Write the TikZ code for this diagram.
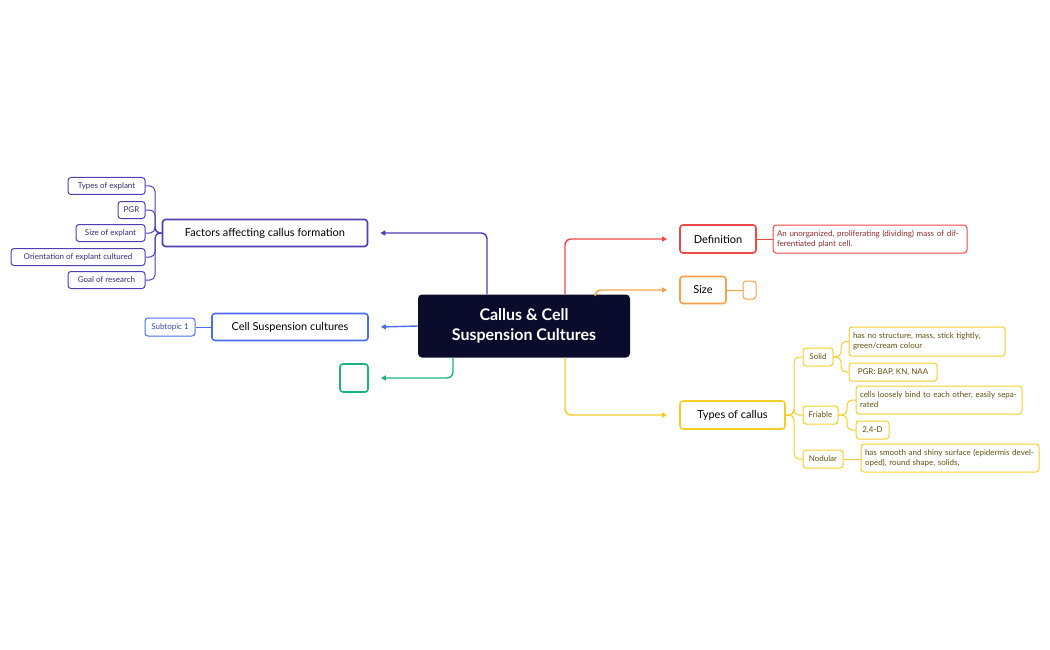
\documentclass[tikz,border=0pt]{standalone}
\usepackage{fontspec}
\setmainfont{Lato}
\usetikzlibrary{arrows.meta}
\definecolor{cPur}{HTML}{4B3FB5}
\definecolor{cBlu}{HTML}{4A6CF0}
\definecolor{cGrn}{HTML}{1BB37A}
\definecolor{cRed}{HTML}{F04848}
\definecolor{cOra}{HTML}{F7A04A}
\definecolor{cYel}{HTML}{F2CE2A}
\definecolor{cNavy}{HTML}{0B0B2B}
\tikzset{
 main/.style={draw=#1,line width=1.6pt,rounded corners=3pt,fill=white,font=\fontsize{11}{13}\selectfont,text=black,inner sep=0pt,anchor=center},
 sub/.style={draw=#1,line width=1pt,rounded corners=3pt,fill=white,font=\fontsize{8}{10}\selectfont,inner sep=0pt,anchor=center},
 conn/.style={draw=#1,line width=1.4pt,rounded corners=6pt,-{Triangle[length=5pt,width=5pt]}},
 lnk/.style={draw=#1,line width=1pt,rounded corners=5pt},
}
\begin{document}
\begin{tikzpicture}[x=1pt,y=-1pt]
\useasboundingbox (0,0) rectangle (1050,650);
% central
\node[fill=cNavy,rounded corners=4pt,minimum width=212pt,minimum height=63pt,text=white,font=\bfseries\fontsize{16}{20}\selectfont,align=center] (c) at (524,326) {Callus \& Cell\\Suspension Cultures};
% left
\node[main=cPur,minimum width=205pt,minimum height=27pt] (fac) at (265,233) {Factors affecting callus formation};
\node[main=cBlu,minimum width=156pt,minimum height=27pt] (csc) at (290,327) {Cell Suspension cultures};
\node[main=cGrn,minimum width=28pt,minimum height=28pt] (g) at (354,378) {};
\tikzset{ps/.style={sub=cPur,text=cPur!70!black,minimum height=17pt}}
\node[ps,minimum width=77pt] (f1) at (106.5,186) {Types of explant};
\node[ps,minimum width=27pt] (f2) at (131.5,210) {PGR};
\node[ps,minimum width=69pt] (f3) at (110.5,233) {Size of explant};
\node[ps,minimum width=134pt] (f4) at (78,257) {Orientation of explant cultured};
\node[ps,minimum width=77pt] (f5) at (106.5,280) {Goal of research};
\node[sub=cBlu,text=cBlu!70!black,minimum width=50pt,minimum height=18pt] (s1) at (170,327) {Subtopic 1};
% right
\node[main=cRed,minimum width=76pt,minimum height=28pt] (def) at (718,239) {Definition};
\node[sub=cRed,text=cRed!60!black,minimum width=194pt,minimum height=28pt,align=left,text width=186pt] (dt) at (870,239) {An unorganized, proliferating (dividing) mass of differentiated plant cell.};
\node[main=cOra,minimum width=46pt,minimum height=27pt] (sz) at (703,290) {Size};
\node[sub=cOra,minimum width=13pt,minimum height=18pt] (szb) at (749.5,290) {};
\node[main=cYel,minimum width=105pt,minimum height=28pt] (ty) at (732.5,415) {Types of callus};
\tikzset{ys/.style={sub=cYel,text=cYel!40!black,align=left}}
\node[ys,minimum width=30pt,minimum height=18pt] (so) at (818,357) {Solid};
\node[ys,minimum width=156pt,minimum height=29pt,text width=148pt] (so1) at (927,341.5) {has no structure, mass, stick tightly, green/cream colour};
\node[ys,minimum width=88pt,minimum height=18pt] (so2) at (893,372) {PGR: BAP, KN, NAA};
\node[ys,minimum width=35pt,minimum height=18pt] (fr) at (820.5,415) {Friable};
\node[ys,minimum width=166pt,minimum height=28pt,text width=158pt] (fr1) at (939,400) {cells loosely bind to each other, easily separated};
\node[ys,minimum width=33pt,minimum height=18pt] (fr2) at (872.5,430) {2,4-D};
\node[ys,minimum width=40pt,minimum height=18pt] (no) at (823,459) {Nodular};
\node[ys,minimum width=178pt,minimum height=28pt,text width=170pt] (no1) at (950,458) {has smooth and shiny surface (epidermis developed), round shape, solids,};
% main connectors
\draw[conn=cPur] (c.north west -| 487,0) -- (487,233) -- ([xshift=12pt]fac.east);
\draw[conn=cBlu] (c.west) -- ([xshift=12pt]csc.east);
\draw[conn=cGrn] (c.south west -| 453,0) -- (453,378) -- ([xshift=12pt]g.east);
\draw[conn=cRed] (c.north west -| 565,0) -- (565,239) -- ([xshift=-12pt]def.west);
\draw[conn=cOra] (c.north west -| 595,0) -- (595,290) -- ([xshift=-12pt]sz.west);
\draw[conn=cYel] (c.south west -| 565,0) -- (565,415) -- ([xshift=-12pt]ty.west);
% sub links
\foreach \n in {f1,f2,f3,f4,f5} \draw[lnk=cPur] (fac.west) -- (155,233) -- (155,0 |- \n.east) -- (\n.east);
\draw[lnk=cBlu] (csc.west) -- (s1.east);
\draw[lnk=cRed] (def.east) -- (dt.west);
\draw[lnk=cOra] (sz.east) -- (szb.west);
\foreach \n in {so,fr,no} \draw[lnk=cYel] (ty.east) -- (794,415) -- (794,0 |- \n.west) -- (\n.west);
\foreach \n in {so1,so2} \draw[lnk=cYel] (so.east) -- (841,357) -- (841,0 |- \n.west) -- (\n.west);
\foreach \n in {fr1,fr2} \draw[lnk=cYel] (fr.east) -- (847,415) -- (847,0 |- \n.west) -- (\n.west);
\draw[lnk=cYel] (no.east) -- (no1.west |- no.east);
\end{tikzpicture}
\end{document}
